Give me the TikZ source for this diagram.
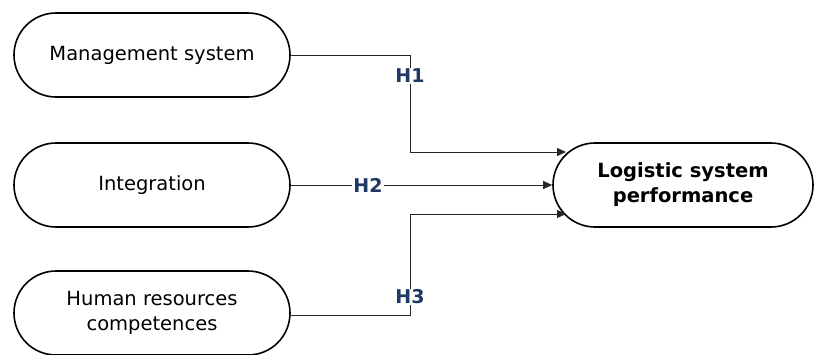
\documentclass[tikz,border=0pt]{standalone}
\usepackage{fontspec}
\setmainfont{DejaVu Sans}
\usetikzlibrary{arrows.meta,shapes.misc}
\definecolor{navy}{HTML}{1F3864}
\begin{document}
\begin{tikzpicture}[x=1pt,y=-1pt,
  box/.style={draw, line width=1.6pt, rounded rectangle, minimum width=276pt, minimum height=84pt, align=center, inner sep=0pt, font=\fontsize{19.5}{25}\selectfont},
  conn/.style={line width=0.8pt, draw=black!85},
  arr/.style={conn, -{Triangle[length=9pt,width=8pt]}},
  hyp/.style={font=\bfseries\fontsize{19}{22}\selectfont, text=navy, fill=white, inner sep=1pt}]
\useasboundingbox (0,0) rectangle (818,354);
\node[box] (ms) at (152,55) {Management system};
\node[box] (ig) at (152,185) {Integration};
\node[box] (hr) at (152,313) {Human resources\\competences};
\node[box, minimum width=260pt, font=\bfseries\fontsize{19.5}{25}\selectfont] (lsp) at (683,185) {Logistic system\\performance};
\coordinate (c1a) at (410,55);
\coordinate (c1b) at (410,152);
\coordinate (t1) at (566,152);
\coordinate (c3a) at (410,315);
\coordinate (c3b) at (410,214);
\coordinate (t3) at (566,214);
\draw[arr] (ms.east) -- (c1a) -- (c1b) -- (t1);
\node[hyp] (h1) at (410,76) {H1};
\draw[arr] (ig.east) -- (lsp.west);
\node[hyp] (h2) at (368,185) {H2};
\draw[arr] (hr.east |- c3a) -- (c3a) -- (c3b) -- (t3);
\node[hyp] (h3) at (410,297) {H3};
\end{tikzpicture}
\end{document}
